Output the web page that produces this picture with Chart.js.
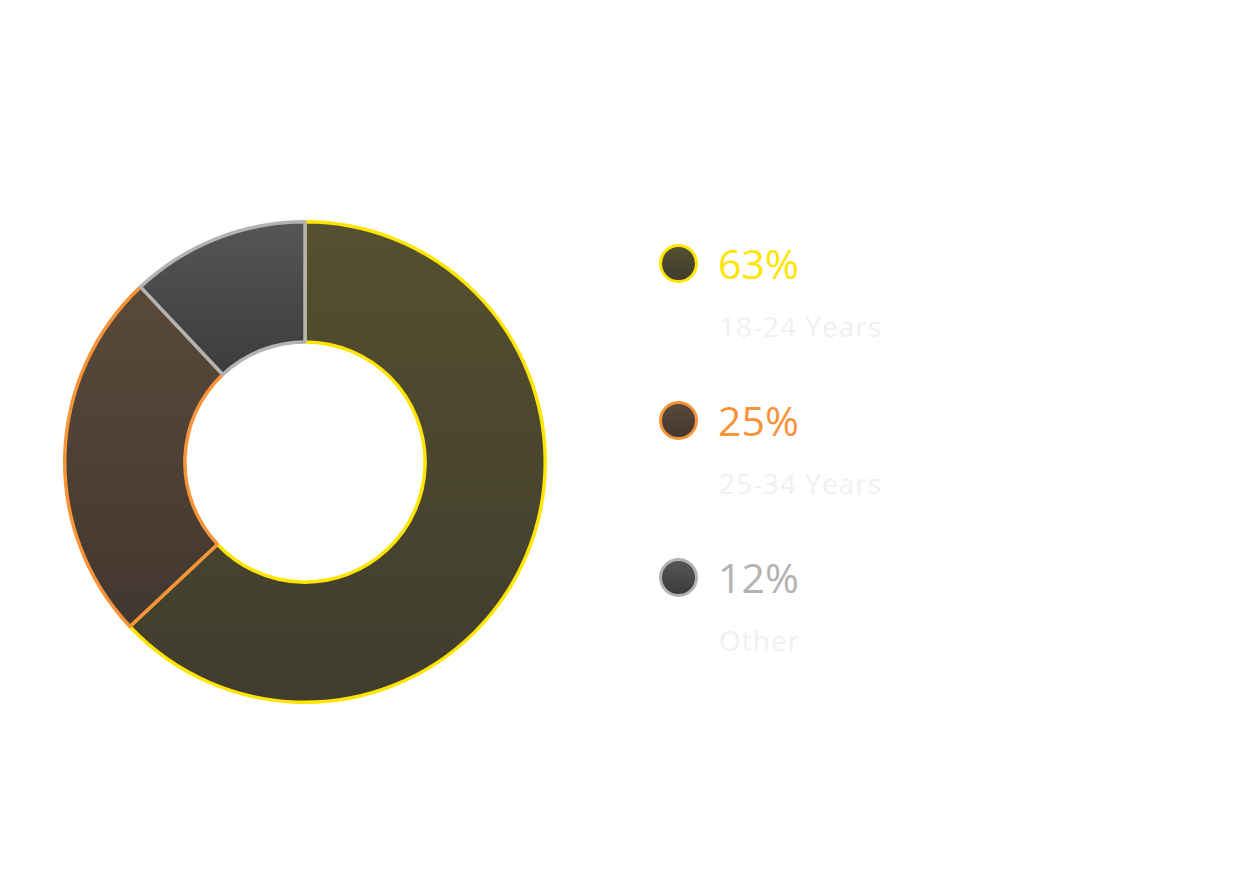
<!DOCTYPE html>
<html>
<head>
<meta charset="utf-8">
<script src="https://cdn.jsdelivr.net/npm/chart.js@4.4.1/dist/chart.umd.min.js"></script>
<style>
  html, body { margin: 0; padding: 0; background: #fff; }
  body { width: 1256px; height: 888px; position: relative; overflow: hidden; font-family: "Open Sans", sans-serif; }
  #chartBox { position: absolute; left: 63px; top: 220px; width: 484px; height: 484px; }
  #legend { position: absolute; left: 659px; top: 244px; }
  .item { position: relative; height: 157px; }
  .dot { position: absolute; left: 0; top: 0; width: 33px; height: 33px; border-radius: 50%; border: 3.5px solid; }
  .pct { position: absolute; left: 59px; top: -9px; font-size: 41px; line-height: 56px; white-space: nowrap; }
  .lbl { position: absolute; left: 60px; top: 62px; font-size: 28px; line-height: 40px; letter-spacing: 1px; color: #f0f0f2; white-space: nowrap; }
</style>
</head>
<body>
<div id="chartBox"><canvas id="ageChart"></canvas></div>
<div id="legend"></div>
<script>
const categories = ["18-24 Years", "25-34 Years", "Other"];
const shares = [63, 25, 12];
const borderColors = ["#ffe500", "#f7943a", "#b3b3b3"];
const fillTop = ["#55502f", "#594938", "#565656"];
const fillBottom = ["#3f3c2e", "#423730", "#3c3c3c"];

// vertical gradient spanning each slice's own height
function sliceGradient(context) {
  const chart = context.chart;
  const i = context.dataIndex;
  const area = chart.chartArea;
  if (!area || i === undefined) return fillTop[i || 0];
  const cx = (area.left + area.right) / 2;
  const cy = (area.top + area.bottom) / 2;
  const outer = Math.min(area.width, area.height) / 2;
  const inner = outer * 0.5;
  const total = shares.reduce((a, b) => a + b, 0);
  const before = shares.slice(0, i).reduce((a, b) => a + b, 0);
  const start = -Math.PI / 2 + (before / total) * Math.PI * 2;
  const end = start + (shares[i] / total) * Math.PI * 2;
  const angles = [start, end];
  [-Math.PI / 2, Math.PI / 2, Math.PI * 1.5].forEach((a) => {
    if (a > start && a < end) angles.push(a);
  });
  let ymin = Infinity, ymax = -Infinity;
  angles.forEach((a) => {
    [outer, inner].forEach((r) => {
      const y = cy + Math.sin(a) * r;
      ymin = Math.min(ymin, y);
      ymax = Math.max(ymax, y);
    });
  });
  const g = chart.ctx.createLinearGradient(0, ymin, 0, ymax);
  g.addColorStop(0, fillTop[i]);
  g.addColorStop(1, fillBottom[i]);
  return g;
}

document.addEventListener("DOMContentLoaded", function () {
  new Chart(document.getElementById("ageChart"), {
    type: "doughnut",
    data: {
      labels: categories,
      datasets: [
        {
          data: shares,
          backgroundColor: sliceGradient,
          borderColor: borderColors,
          borderWidth: 3.5,
          hoverOffset: 0,
        },
      ],
    },
    options: {
      responsive: true,
      maintainAspectRatio: false,
      animation: false,
      cutout: "50%",
      layout: { padding: 0 },
      plugins: {
        legend: { display: false },
        tooltip: { enabled: false },
      },
    },
  });

  const legend = document.getElementById("legend");
  categories.forEach((name, i) => {
    const item = document.createElement("div");
    item.className = "item";
    item.innerHTML =
      '<div class="dot" style="border-color:' + borderColors[i] +
      ";background:linear-gradient(" + fillTop[i] + "," + fillBottom[i] + ')"></div>' +
      '<div class="pct" style="color:' + borderColors[i] + '">' + shares[i] + "%</div>" +
      '<div class="lbl">' + name + "</div>";
    legend.appendChild(item);
  });
});
</script>
</body>
</html>
